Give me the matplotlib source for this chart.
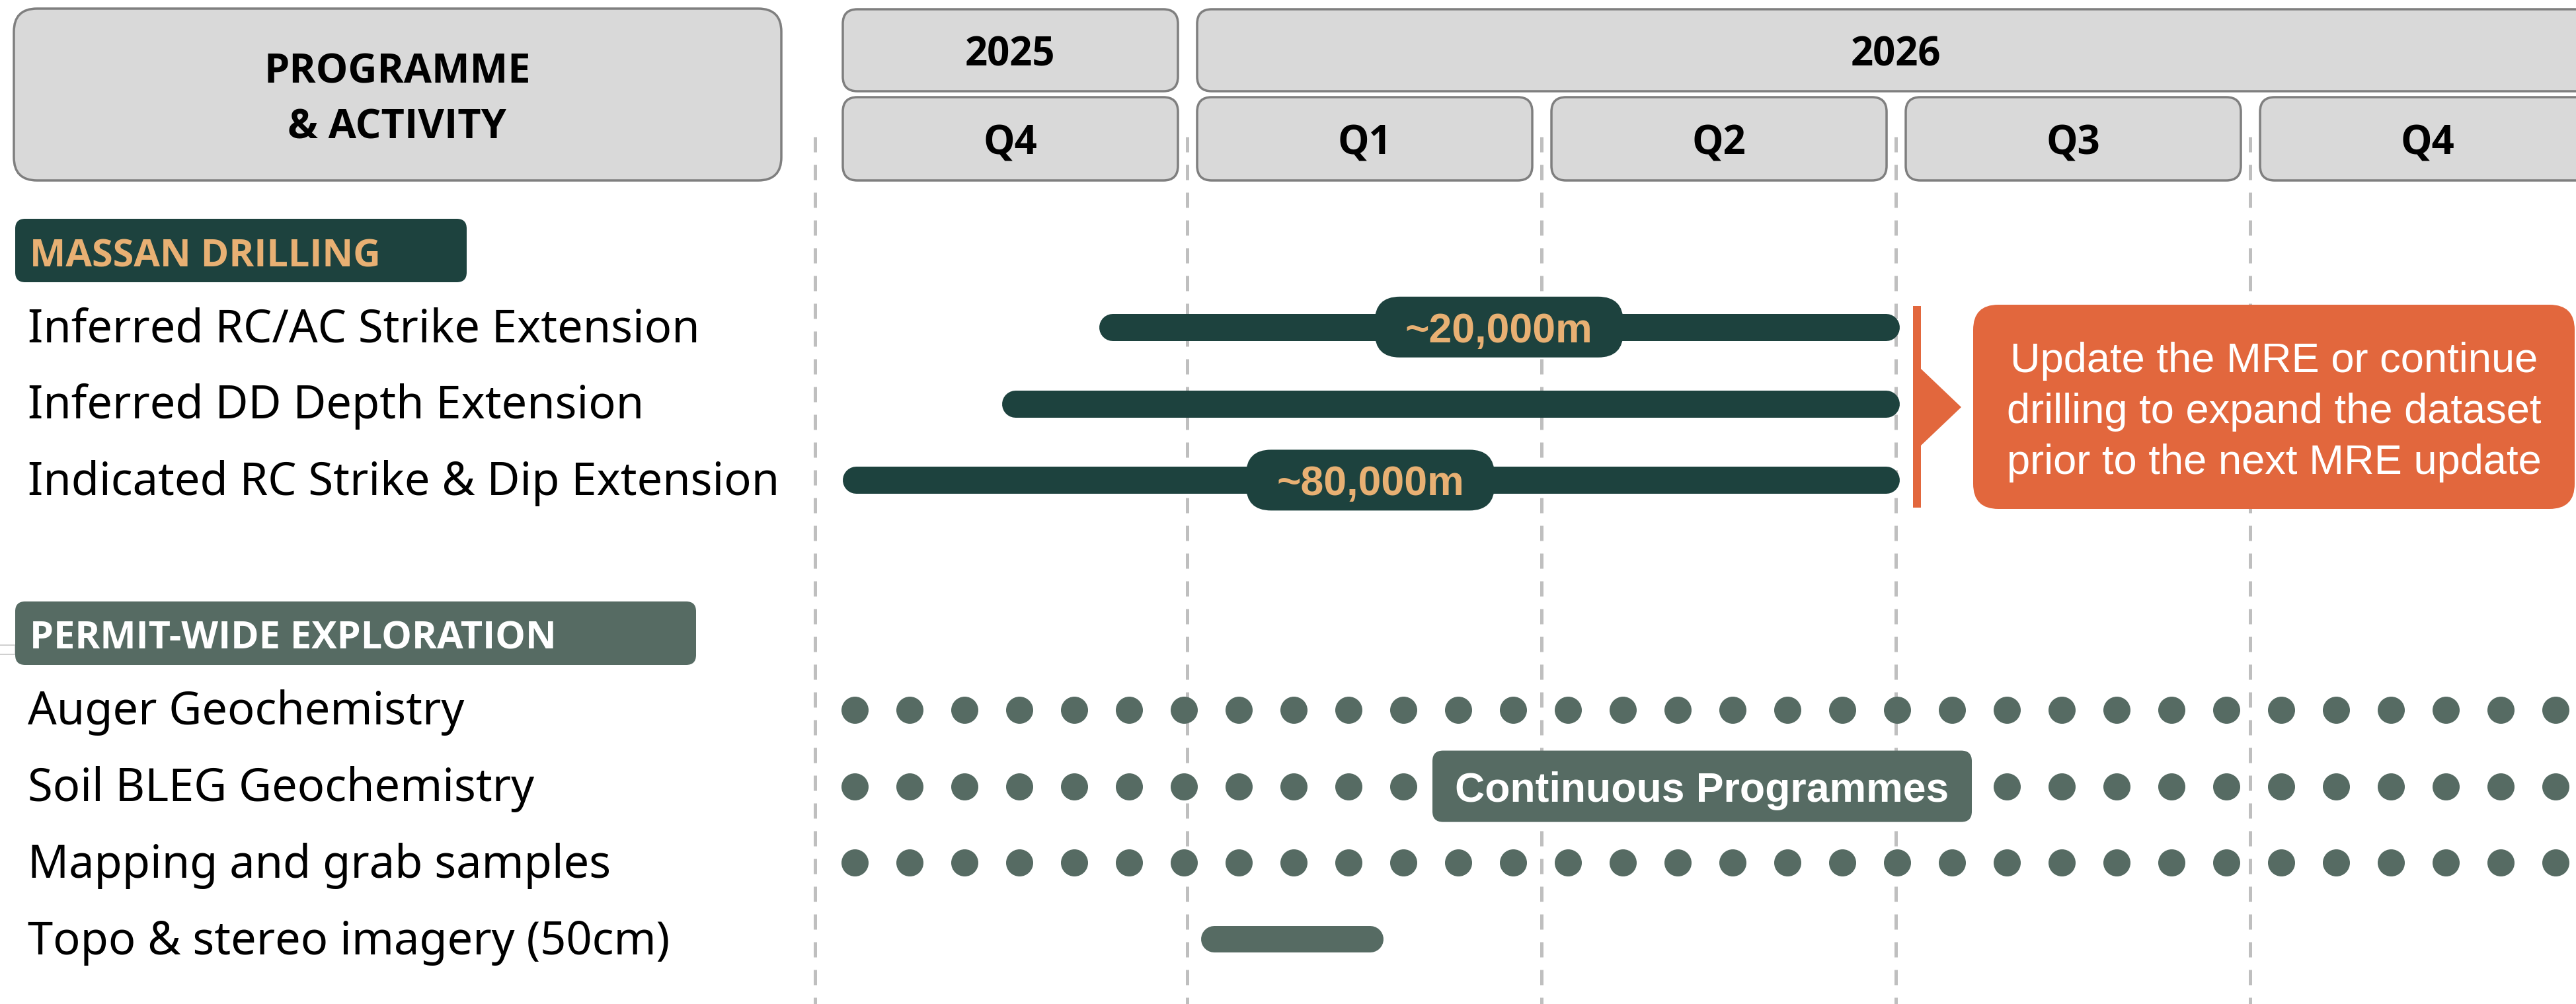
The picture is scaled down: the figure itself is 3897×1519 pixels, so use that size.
import numpy as np
import matplotlib.pyplot as plt
from matplotlib.patches import FancyBboxPatch, Polygon, Rectangle

# ---- data (x in months from 1 Oct 2025, y in row slots) ----
years = ['2025', '2026']
year_spans = [(0, 3), (3, 15)]
quarters = ['Q4', 'Q1', 'Q2', 'Q3', 'Q4']
quarter_starts = [0, 3, 6, 9, 12]
quarter_len = 3
divider_x = -0.15

sections = ['MASSAN DRILLING', 'PERMIT-WIDE EXPLORATION']
section_rows = [0, 5]

drill_tasks = ['Inferred RC/AC Strike Extension',
               'Inferred DD Depth Extension',
               'Indicated RC Strike & Dip Extension']
drill_rows = [1, 2, 3]
drill_start = [2.25, 1.43, 0.08]
drill_end = [9.03, 9.03, 9.03]

metre_labels = ['~20,000m', '~80,000m']
metre_rows = [1, 3]
metre_pos = [5.64, 4.55]

explore_tasks = ['Auger Geochemistry', 'Soil BLEG Geochemistry',
                 'Mapping and grab samples', 'Topo & stereo imagery (50cm)']
explore_rows = [6, 7, 8, 9]
continuous_rows = [6, 7, 8]
dot_first = 0.185
dot_step = 0.4645   # fortnightly
n_dots = 32
topo_row = 9
topo_start, topo_end = 3.12, 4.66
continuous_label = 'Continuous Programmes'
continuous_pos = 7.36
continuous_row = 7

callout_lines = ['Update the MRE or continue',
                 'drilling to expand the dataset',
                 'prior to the next MRE update']

# ---- style ----
DARK = '#1D423E'
SAGE = '#566B63'
TAN = '#E8B073'
ORANGE = '#E2673D'
BOXGREY = '#D9D9D9'
EDGE = '#7F7F7F'
DASH = '#BFBFBF'
PT = 0.72  # points per pixel at dpi 100

HEAD_FONT = ['Open Sans', 'DejaVu Sans']
LABEL_FONT = ['Noto Sans', 'DejaVu Sans']
ARIAL = ['Liberation Sans', 'DejaVu Sans']

W, H = 3898, 1519
fig = plt.figure(figsize=(W / 100, H / 100), dpi=100)

# data axes: months x row slots
ax = fig.add_axes([0, 0, 1, 1])
px_per_month, x0_px = 178.67, 1260
row_px, row0_px = 115.8, 379
ax.set_xlim(-x0_px / px_per_month, (W - x0_px) / px_per_month)
ax.set_ylim((H - row0_px) / row_px, -row0_px / row_px)
ax.axis('off')

# layout axes in pixels, on top
lay = fig.add_axes([0, 0, 1, 1])
lay.set_xlim(0, W)
lay.set_ylim(H, 0)
lay.axis('off')


def to_px(m, r=0):
    d = ax.transData.transform((m, r))
    return d[0], H - d[1]


def rbox(x0, y0, x1, y1, r, fc, ec='none', lw=0, z=2):
    lay.add_patch(FancyBboxPatch((x0 + r, y0 + r), x1 - x0 - 2 * r, y1 - y0 - 2 * r,
                                 boxstyle=f'round,pad={r},rounding_size={r}',
                                 fc=fc, ec=ec, lw=lw, zorder=z))


month_px = to_px(1)[0] - to_px(0)[0]

# dashed quarter lines
for q in [divider_x] + quarter_starts[1:]:
    ax.plot([q, q], [-1.485, 10.5], color=DASH, lw=5 * PT, dashes=(4.6, 3.8), zorder=1)

# drilling bars
bar_w = 41
for s, e, r in zip(drill_start, drill_end, drill_rows):
    cap = bar_w / 2 / month_px
    ax.plot([s + cap, e - cap], [r, r], color=DARK, lw=bar_w * PT,
            solid_capstyle='round', zorder=3)

# continuous dots
xs = dot_first + dot_step * np.arange(n_dots)
for r in continuous_rows:
    ax.plot(xs, [r] * n_dots, 'o', ms=41 * PT, color=SAGE, mew=0, zorder=3)

# topo bar
cap = 40 / 2 / month_px
ax.plot([topo_start + cap, topo_end - cap], [topo_row, topo_row], color=SAGE,
        lw=40 * PT, solid_capstyle='round', zorder=3)

# ---- header ----
rbox(21, 13, 1182, 273, 35, BOXGREY, EDGE, 3.5 * PT)
lay.text(601, 102, 'PROGRAMME', ha='center', va='center_baseline', fontsize=44,
         fontweight='bold', family=HEAD_FONT, zorder=5)
lay.text(601, 187, '& ACTIVITY', ha='center', va='center_baseline', fontsize=44,
         fontweight='bold', family=HEAD_FONT, zorder=5)

for lab, (s, e) in zip(years, year_spans):
    xa, xb = to_px(s)[0] + 15, to_px(e)[0] - 14
    rbox(xa, 14, xb, 138, 22, BOXGREY, EDGE, 3.5 * PT)
    lay.text(to_px((s + e) / 2)[0], 77, lab, ha='center', va='center_baseline',
             fontsize=43, fontweight='bold', family=HEAD_FONT, zorder=5)

for lab, s in zip(quarters, quarter_starts):
    xa, xb = to_px(s)[0] + 15, to_px(s + quarter_len)[0] - 14
    rbox(xa, 147, xb, 273, 22, BOXGREY, EDGE, 3.5 * PT)
    lay.text(to_px(s + quarter_len / 2)[0], 211, lab, ha='center', va='center_baseline',
             fontsize=43, fontweight='bold', family=HEAD_FONT, zorder=5)

# ---- section headers ----
sec_w = [706, 1053]
sec_fc = [DARK, SAGE]
sec_tc = [TAN, 'white']
for lab, r, w, fc, tc in zip(sections, section_rows, sec_w, sec_fc, sec_tc):
    y = to_px(0, r)[1]
    rbox(23, y - 48, w, y + 48, 15, fc)
    lay.text(45, y + 2, lab, ha='left', va='center_baseline', fontsize=41.5,
             fontweight='bold', family=HEAD_FONT, color=tc, zorder=5)
# small stray rule at the left edge
lay.add_patch(Rectangle((-5, 976), 28, 14, fc='none', ec='#D0D0D0', lw=2 * PT, zorder=1))

# ---- row labels ----
for lab, r in zip(drill_tasks + explore_tasks, drill_rows + explore_rows):
    lay.text(42, to_px(0, r)[1] - 4, lab, ha='left', va='center_baseline', fontsize=49.4,
             family=LABEL_FONT, color='black', zorder=5)

# ---- metre pills ----
for lab, m, r in zip(metre_labels, metre_pos, metre_rows):
    cx, cy = to_px(m, r)
    rbox(cx - 188, cy - 46, cx + 188, cy + 46, 38, DARK, z=6)
    lay.text(cx, cy, lab, ha='center', va='center_baseline', fontsize=45,
             fontweight='bold', family=ARIAL, color=TAN, zorder=7)

# continuous pill
cx, cy = to_px(continuous_pos, continuous_row)
rbox(cx - 408, cy - 54, cx + 408, cy + 54, 16, SAGE, z=6)
lay.text(cx, cy, continuous_label, ha='center', va='center_baseline', fontsize=45,
         fontweight='bold', family=ARIAL, color='white', zorder=7)

# ---- callout ----
lay.add_patch(Rectangle((2894, 463), 12, 305, fc=ORANGE, ec='none', zorder=6))
lay.add_patch(Polygon([(2905, 557), (2967, 616), (2905, 675)], closed=True,
                      fc=ORANGE, ec='none', zorder=6))
rbox(2985, 461, 3895, 770, 38, ORANGE, z=6)
for i, line in enumerate(callout_lines):
    lay.text(3440, 540 + 77 * i, line, ha='center', va='center_baseline', fontsize=45.5,
             family=ARIAL, color='white', zorder=7)

fig.savefig('out.png', dpi=100)
